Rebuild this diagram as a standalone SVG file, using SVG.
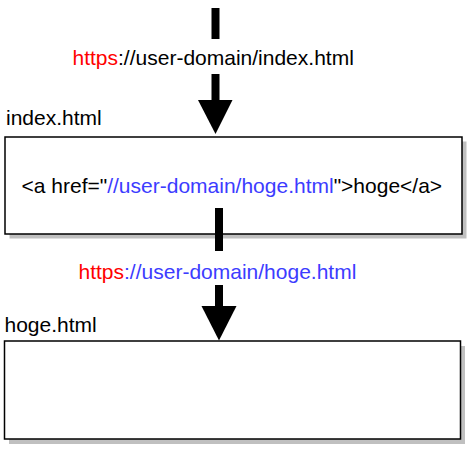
<svg xmlns="http://www.w3.org/2000/svg" width="470" height="451" viewBox="0 0 470 451">
<defs>
<style>
text{font-family:"Liberation Sans",Arial,sans-serif;font-size:21px;fill:#000}
.red{fill:#ff0000}
.blue{fill:#3c3cff}
.shadow{fill:#c0c0c0}
.box{fill:#fff;stroke:#000;stroke-width:1.5}
.shaft{stroke:#000;stroke-width:8;fill:none}
.head{fill:#000}
</style>
</defs>
<rect width="470" height="451" fill="#fff"/>
<g id="node-index">
<rect class="shadow" x="9.5" y="141.5" width="457" height="97"/>
<rect class="box" x="5" y="137" width="457" height="97"/>
<text x="6" y="124.5">index.html</text>
<text x="21.5" y="193">&lt;a href="<tspan class="blue">//user-domain/hoge.html</tspan>"&gt;hoge&lt;/a&gt;</text>
</g>
<g id="node-hoge">
<rect class="shadow" x="9" y="346" width="456" height="98"/>
<rect class="box" x="4.5" y="341" width="456" height="98"/>
<text x="4.5" y="332">hoge.html</text>
</g>
<g id="connectors">
<line class="shaft" x1="215.5" y1="8" x2="215.5" y2="39"/>
<line class="shaft" x1="215.5" y1="74" x2="215.5" y2="101"/>
<polygon class="head" points="198,100 232.5,100 215.5,134"/>
<text x="72.5" y="65"><tspan class="red">https</tspan>://user-domain/index.html</text>
<line class="shaft" x1="219" y1="208" x2="219" y2="251"/>
<line class="shaft" x1="219" y1="285" x2="219" y2="307"/>
<polygon class="head" points="201.5,306 236.5,306 219,340.5"/>
<text x="78.5" y="278.5"><tspan class="red">https</tspan><tspan class="blue">://user-domain/hoge.html</tspan></text>
</g>
</svg>
